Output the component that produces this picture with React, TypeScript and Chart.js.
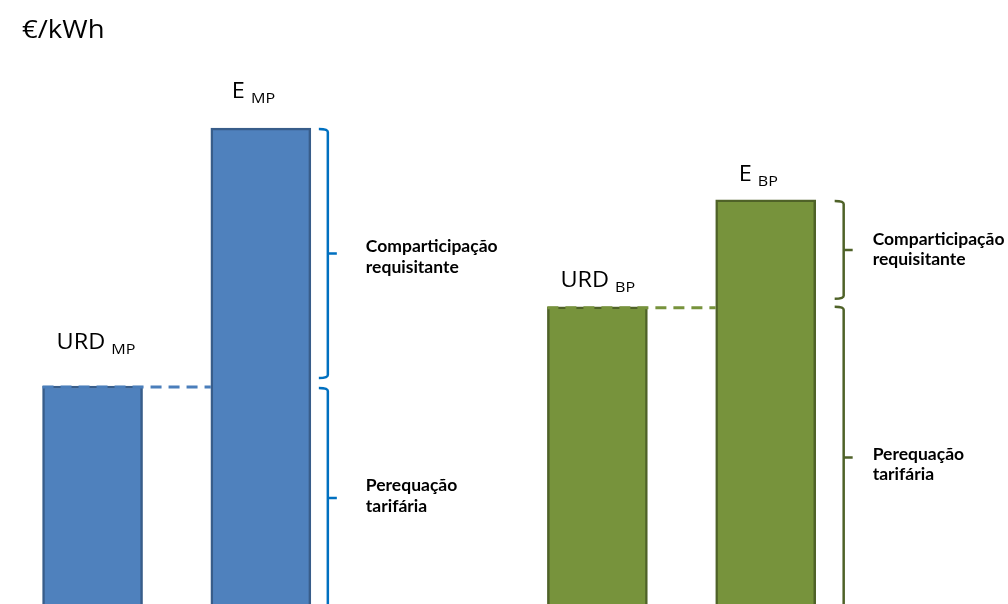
import React, { useEffect, useRef } from 'react';
import { Chart, registerables } from 'chart.js';

Chart.register(...registerables);

// ---- data ----
const unitLabel = '€/kWh';
const barNames = ['URD', 'E', 'URD', 'E'];
const barSubs = ['MP', 'MP', 'BP', 'BP'];
const barPositions = [0, 1, 3, 4];
const barValues = [36.1, 78.8, 49.2, 66.9];
const upperBracketText = ['Comparticipação', 'requisitante'];
const lowerBracketText = ['Perequação', 'tarifária'];
const groupBars = [
  [0, 1],
  [2, 3],
];

// ---- styles ----
const groupStyles = [
  { fill: '#4F81BD', border: '#385D8A', dash: '#4A7EBB', bracket: '#0070C0', bracketGap: 17, textGap: 38, upperDy: -2, lowerDy: -7, lineH: 21 },
  { fill: '#77933C', border: '#4F6228', dash: '#77933C', bracket: '#4F6228', bracketGap: 28, textGap: 29, upperDy: -5, lowerDy: 3, lineH: 20 },
];
const labelOffsets = [
  { dx: 14, dy: -37 },
  { dx: 21, dy: -30 },
  { dx: 13, dy: -20 },
  { dx: 23, dy: -19 },
];
const REG = '"Open Sans", "DejaVu Sans", sans-serif';
const BOLD = 'Lato, "Open Sans", sans-serif';

function drawScaledText(ctx: CanvasRenderingContext2D, text: string, x: number, y: number, font: string, sx: number) {
  ctx.save();
  ctx.font = font;
  ctx.translate(x, y);
  ctx.scale(sx, 1);
  ctx.fillText(text, 0, 0);
  const w = ctx.measureText(text).width * sx;
  ctx.restore();
  return w;
}

function drawBrace(ctx: CanvasRenderingContext2D, x: number, y1: number, y2: number, color: string) {
  const hook = 9;
  const mid = (y1 + y2) / 2;
  ctx.save();
  ctx.strokeStyle = color;
  ctx.lineWidth = 2.5;
  ctx.lineJoin = 'round';
  ctx.beginPath();
  ctx.moveTo(x - hook, y1);
  ctx.quadraticCurveTo(x, y1, x, y1 + 3);
  ctx.lineTo(x, y2 - 3);
  ctx.quadraticCurveTo(x, y2, x - hook, y2);
  ctx.moveTo(x, mid);
  ctx.lineTo(x + hook, mid);
  ctx.stroke();
  ctx.restore();
  return mid;
}

const annotationPlugin = {
  id: 'annotations',
  afterDatasetsDraw(chart: any) {
    const ctx: CanvasRenderingContext2D = chart.ctx;
    const area = chart.chartArea;
    ctx.save();
    ctx.fillStyle = '#000000';
    ctx.textBaseline = 'alphabetic';
    ctx.textAlign = 'left';
    drawScaledText(ctx, unitLabel, 22, 38, `25px ${REG}`, 1.1);

    groupBars.forEach((idxs, g) => {
      const st = groupStyles[g];
      const meta = chart.getDatasetMeta(g);
      const urd = meta.data[0];
      const e = meta.data[1];
      // dashed connector
      ctx.save();
      ctx.strokeStyle = st.dash;
      ctx.lineWidth = 3;
      ctx.setLineDash([11, 7]);
      ctx.beginPath();
      ctx.moveTo(urd.x - urd.width / 2, urd.y + 1);
      ctx.lineTo(e.x - e.width / 2, urd.y + 1);
      ctx.stroke();
      ctx.restore();

      // brackets
      const bx = e.x + e.width / 2 + st.bracketGap;
      const midU = drawBrace(ctx, bx, e.y + 1, urd.y - 8, st.bracket);
      const midL = drawBrace(ctx, bx, urd.y + 2 - (g === 1 ? 2 : 0), area.bottom + 4, st.bracket);
      ctx.fillStyle = '#000000';
      upperBracketText.forEach((t, i) => {
        drawScaledText(ctx, t, bx + st.textGap, midU + st.upperDy + i * st.lineH, `bold 17.5px ${BOLD}`, 1);
      });
      lowerBracketText.forEach((t, i) => {
        drawScaledText(ctx, t, bx + st.textGap, midL + st.lowerDy + i * st.lineH, `bold 17.5px ${BOLD}`, 1);
      });

      // bar labels
      [urd, e].forEach((bar: any, k: number) => {
        const bi = idxs[k];
        const off = labelOffsets[bi];
        const lx = bar.x - bar.width / 2 + off.dx;
        const ly = bar.y + off.dy;
        const w = drawScaledText(ctx, barNames[bi], lx, ly, `21px ${REG}`, 1.12);
        drawScaledText(ctx, barSubs[bi], lx + w + 6, ly + 5, `14px ${REG}`, 1.15);
      });
    });
    ctx.restore();
  },
};

export default function App() {
  const canvasRef = useRef<HTMLCanvasElement | null>(null);
  useEffect(() => {
    const canvas = canvasRef.current;
    if (!canvas) return;
    const datasets = groupBars.map((idxs, g) => ({
      label: barSubs[idxs[0]],
      data: idxs.map((i) => ({ x: barPositions[i], y: barValues[i] })),
      backgroundColor: groupStyles[g].fill,
      borderColor: groupStyles[g].border,
      borderWidth: 2.5,
      borderSkipped: 'bottom' as const,
      barThickness: 100,
      grouped: false,
    }));
    const chart = new Chart(canvas, {
      type: 'bar',
      data: { datasets },
      options: {
        animation: false,
        responsive: false,
        maintainAspectRatio: false,
        layout: { padding: 0 },
        plugins: { legend: { display: false }, tooltip: { enabled: false } },
        scales: {
          x: { type: 'linear', min: -0.55, max: 5.44, offset: false, display: false },
          y: { type: 'linear', min: 0, max: 100, display: false },
        },
      },
      plugins: [annotationPlugin],
    });
    return () => chart.destroy();
  }, []);
  return (
    <div style={{ position: 'fixed', left: 0, top: 0, width: 1008, height: 604, background: '#ffffff' }}>
      <canvas ref={canvasRef} width={1008} height={604} style={{ width: 1008, height: 604, display: 'block' }} />
    </div>
  );
}
